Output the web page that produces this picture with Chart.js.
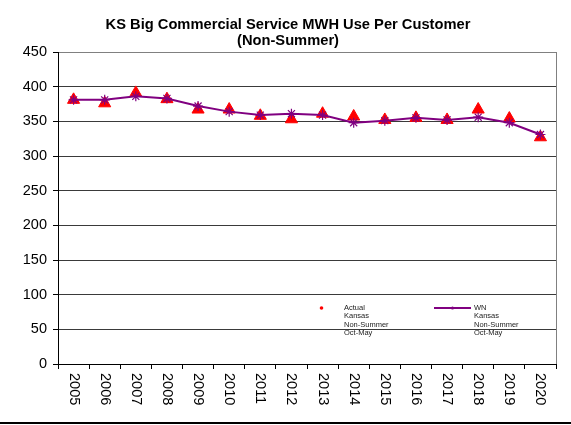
<!DOCTYPE html>
<html>
<head>
<meta charset="utf-8">
<script src="https://cdn.jsdelivr.net/npm/chart.js@4"></script>
<style>
  html, body { margin: 0; padding: 0; background: #fff; }
  #wrap { width: 571px; height: 425px; position: relative; }
</style>
</head>
<body>
<div id="wrap"><canvas id="c" width="571" height="425"></canvas></div>
<script>
const years = ['2005','2006','2007','2008','2009','2010','2011','2012','2013','2014','2015','2016','2017','2018','2019','2020'];
const actualValues = [381, 376, 391, 382, 367, 367, 358, 353, 361, 357, 352, 355, 352, 367, 354, 327];
const wnValues = [381, 381, 386, 383, 372, 364, 359, 361, 359, 348, 351, 355, 352, 356, 348, 331];
const titleLines = ['KS Big Commercial Service MWH Use Per Customer', '(Non-Summer)'];
const actualLegend = ['Actual', 'Kansas', 'Non-Summer', 'Oct-May'];
const wnLegend = ['WN', 'Kansas', 'Non-Summer', 'Oct-May'];
const yTicks = [0, 50, 100, 150, 200, 250, 300, 350, 400, 450];

const FONT = '"Liberation Sans", Arial, sans-serif';
const PURPLE = '#800080';
const RED = '#FF0000';

const decor = {
  id: 'decor',
  afterDatasetsDraw(chart) {
    const ctx = chart.ctx;
    const a = chart.chartArea;
    ctx.save();
    ctx.strokeStyle = '#808080';
    ctx.lineWidth = 1;
    ctx.beginPath();
    ctx.moveTo(Math.round(a.right) + 0.5, a.top);
    ctx.lineTo(Math.round(a.right) + 0.5, a.bottom);
    ctx.stroke();
    ctx.restore();
  },
  afterDraw(chart) {
    const ctx = chart.ctx;
    const a = chart.chartArea;
    const xs = chart.scales.x;
    ctx.save();
    // title
    ctx.fillStyle = '#000';
    ctx.font = 'bold 14.7px ' + FONT;
    ctx.textAlign = 'center';
    ctx.textBaseline = 'alphabetic';
    titleLines.forEach((t, i) => ctx.fillText(t, 288, 28.5 + i * 16));

    // x labels rotated clockwise
    ctx.font = '14.5px ' + FONT;
    ctx.textAlign = 'left';
    ctx.textBaseline = 'middle';
    years.forEach((y, i) => {
      const x = xs.getPixelForTick(i);
      ctx.save();
      ctx.translate(x, a.bottom + 9);
      ctx.rotate(Math.PI / 2);
      ctx.fillText(y, 0, 0);
      ctx.restore();
    });

    // legend
    ctx.font = '7.5px ' + FONT;
    ctx.fillStyle = '#222';
    ctx.textBaseline = 'middle';
    const ly = a.top + 256;
    actualLegend.forEach((t, i) => ctx.fillText(t, 344, ly + i * 8.4));
    wnLegend.forEach((t, i) => ctx.fillText(t, 474, ly + i * 8.4));
    ctx.fillStyle = RED;
    ctx.beginPath();
    ctx.arc(321.5, ly, 1.8, 0, Math.PI * 2);
    ctx.fill();
    ctx.strokeStyle = PURPLE;
    ctx.lineWidth = 2;
    ctx.beginPath();
    ctx.moveTo(434, ly);
    ctx.lineTo(471, ly);
    ctx.stroke();
    ctx.fillStyle = PURPLE;
    ctx.beginPath();
    ctx.arc(452.5, ly, 1.6, 0, Math.PI * 2);
    ctx.fill();

    // bottom rule
    ctx.fillStyle = '#000';
    ctx.fillRect(0, 422, 571, 2);
    ctx.restore();
  }
};

new Chart(document.getElementById('c'), {
  type: 'line',
  data: {
    labels: years,
    datasets: [
      {
        label: 'WN Kansas Non-Summer Oct-May',
        data: wnValues,
        borderColor: PURPLE,
        borderWidth: 2,
        pointStyle: 'star',
        pointRadius: 5,
        pointBorderColor: PURPLE,
        pointBorderWidth: 1.2,
        pointBackgroundColor: PURPLE,
        tension: 0,
        order: 0
      },
      {
        label: 'Actual Kansas Non-Summer Oct-May',
        data: actualValues,
        showLine: false,
        pointStyle: 'triangle',
        pointRadius: 7,
        pointBackgroundColor: RED,
        pointBorderColor: RED,
        pointBorderWidth: 1,
        order: 1
      }
    ]
  },
  options: {
    responsive: false,
    animation: false,
    devicePixelRatio: 1,
    layout: { padding: { left: 0, right: 15, top: 52, bottom: 0 } },
    plugins: {
      legend: { display: false },
      title: { display: false },
      tooltip: { enabled: false }
    },
    scales: {
      x: {
        offset: true,
        grid: {
          offset: true,
          drawOnChartArea: false,
          drawTicks: true,
          tickLength: 5,
          color: '#000'
        },
        border: { color: '#000', width: 1 },
        ticks: { display: false },
        afterFit(s) { s.height = 61; }
      },
      y: {
        min: 0,
        max: 450,
        afterBuildTicks(s) { s.ticks = yTicks.map(v => ({ value: v })); },
        grid: {
          color: (c) => (c.tick && c.tick.value === 450) ? '#808080' : '#3a3a3a',
          lineWidth: 1,
          tickLength: 5,
          tickColor: '#000'
        },
        border: { color: '#000', width: 1 },
        ticks: {
          color: '#000',
          padding: 6,
          font: { family: FONT, size: 14.5 }
        },
        afterFit(s) { s.width = 58; }
      }
    }
  },
  plugins: [decor]
});
</script>
</body>
</html>
